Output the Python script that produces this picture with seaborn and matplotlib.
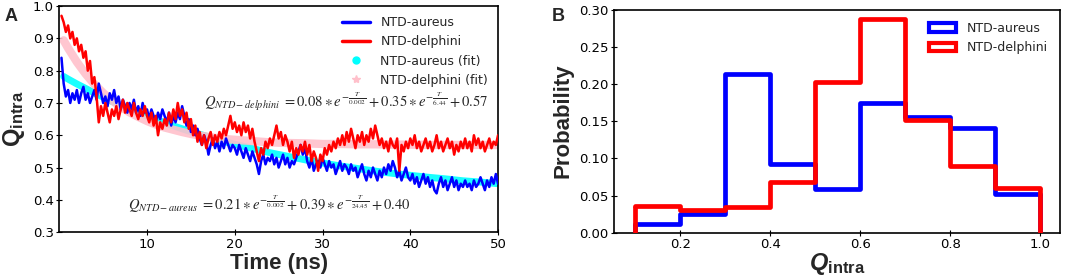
import numpy as np
import pandas as pd
import matplotlib
matplotlib.use('Agg')
import matplotlib.pyplot as plt
import seaborn as sns
from matplotlib.lines import Line2D
from matplotlib.patches import Patch

# ---- Panel A: Q_intra vs time (0.25 ns sampling) ----
time_ns = [0.25 * (k + 1) for k in range(200)]

q_delphini = [
    0.97, 0.95, 0.92, 0.94, 0.90, 0.92, 0.88, 0.90,
    0.86, 0.88, 0.84, 0.86, 0.80, 0.83, 0.76, 0.78,
    0.72, 0.64, 0.69, 0.66, 0.70, 0.67, 0.64, 0.68,
    0.66, 0.69, 0.65, 0.68, 0.71, 0.67, 0.70, 0.68,
    0.66, 0.70, 0.67, 0.65, 0.68, 0.66, 0.69, 0.66,
    0.64, 0.67, 0.63, 0.66, 0.60, 0.64, 0.62, 0.65,
    0.63, 0.67, 0.64, 0.68, 0.65, 0.70, 0.66, 0.68,
    0.64, 0.67, 0.62, 0.65, 0.60, 0.63, 0.58, 0.61,
    0.57, 0.60, 0.56, 0.59, 0.61, 0.57, 0.60, 0.58,
    0.61, 0.59, 0.62, 0.60, 0.63, 0.66, 0.62, 0.64,
    0.61, 0.63, 0.60, 0.64, 0.61, 0.63, 0.59, 0.62,
    0.58, 0.55, 0.52, 0.56, 0.54, 0.58, 0.56, 0.59,
    0.57, 0.60, 0.63, 0.59, 0.61, 0.57, 0.60, 0.58,
    0.55, 0.58, 0.53, 0.56, 0.54, 0.57, 0.55, 0.58,
    0.54, 0.57, 0.52, 0.55, 0.53, 0.49, 0.54, 0.52,
    0.56, 0.54, 0.57, 0.55, 0.58, 0.56, 0.59, 0.57,
    0.60, 0.57, 0.61, 0.58, 0.62, 0.59, 0.56, 0.60,
    0.58, 0.61, 0.57, 0.60, 0.58, 0.62, 0.59, 0.63,
    0.60, 0.57, 0.59, 0.56, 0.58, 0.55, 0.59, 0.57,
    0.56, 0.59, 0.49, 0.57, 0.55, 0.58, 0.56, 0.59,
    0.57, 0.60, 0.56, 0.58, 0.55, 0.57, 0.59, 0.56,
    0.58, 0.55, 0.57, 0.60, 0.56, 0.58, 0.55, 0.57,
    0.59, 0.56, 0.58, 0.54, 0.57, 0.55, 0.58, 0.56,
    0.59, 0.56, 0.58, 0.55, 0.60, 0.57, 0.59, 0.56,
    0.58, 0.55, 0.57, 0.59, 0.56, 0.58, 0.57, 0.60,
]

q_aureus = [
    0.84, 0.76, 0.72, 0.74, 0.70, 0.73, 0.71, 0.74,
    0.70, 0.73, 0.75, 0.71, 0.73, 0.70, 0.72, 0.74,
    0.71, 0.76, 0.73, 0.70, 0.72, 0.69, 0.73, 0.71,
    0.74, 0.70, 0.72, 0.68, 0.71, 0.69, 0.67, 0.70,
    0.68, 0.71, 0.67, 0.69, 0.66, 0.70, 0.67, 0.68,
    0.65, 0.68, 0.66, 0.64, 0.67, 0.65, 0.68, 0.66,
    0.64, 0.67, 0.63, 0.66, 0.64, 0.67, 0.65, 0.69,
    0.66, 0.63, 0.65, 0.61, 0.63, 0.60, 0.62, 0.59,
    0.57, 0.60, 0.58, 0.54, 0.57, 0.59, 0.56, 0.58,
    0.55, 0.58, 0.56, 0.59, 0.57, 0.55, 0.57, 0.56,
    0.54, 0.57, 0.55, 0.53, 0.56, 0.54, 0.52, 0.55,
    0.53, 0.51, 0.48, 0.52, 0.54, 0.51, 0.53, 0.52,
    0.54, 0.51, 0.53, 0.50, 0.52, 0.54, 0.51, 0.53,
    0.50, 0.52, 0.51, 0.53, 0.55, 0.57, 0.54, 0.56,
    0.52, 0.50, 0.53, 0.49, 0.51, 0.52, 0.50, 0.53,
    0.51, 0.49, 0.52, 0.50, 0.51, 0.48, 0.50, 0.52,
    0.49, 0.51, 0.50, 0.48, 0.51, 0.49, 0.50, 0.47,
    0.49, 0.51, 0.48, 0.46, 0.49, 0.47, 0.50, 0.48,
    0.46, 0.49, 0.47, 0.50, 0.48, 0.51, 0.49, 0.52,
    0.50, 0.47, 0.49, 0.46, 0.48, 0.50, 0.47, 0.46,
    0.48, 0.45, 0.47, 0.44, 0.46, 0.48, 0.45, 0.47,
    0.44, 0.46, 0.43, 0.42, 0.45, 0.47, 0.44, 0.46,
    0.43, 0.45, 0.47, 0.44, 0.46, 0.43, 0.45, 0.44,
    0.46, 0.44, 0.45, 0.43, 0.46, 0.44, 0.45, 0.47,
    0.45, 0.43, 0.46, 0.44, 0.47, 0.45, 0.48, 0.45,
]

fit_t = [0.5, 1, 2, 3, 4, 5, 6, 7, 8, 9, 10, 11, 12, 13, 14, 15, 16, 17, 18, 19, 20,
         22, 24, 26, 28, 30, 32, 34, 36, 38, 40, 42, 44, 46, 48, 50]
fit_aureus = [0.782, 0.774, 0.759, 0.745, 0.731, 0.718, 0.705, 0.693, 0.681, 0.670, 0.659,
              0.649, 0.639, 0.629, 0.620, 0.611, 0.603, 0.595, 0.587, 0.579, 0.572,
              0.559, 0.546, 0.535, 0.524, 0.514, 0.505, 0.497, 0.489, 0.482, 0.476,
              0.470, 0.465, 0.459, 0.455, 0.450]
fit_delphini = [0.894, 0.870, 0.827, 0.790, 0.758, 0.731, 0.708, 0.688, 0.671, 0.657, 0.644,
                0.633, 0.624, 0.617, 0.610, 0.604, 0.599, 0.595, 0.591, 0.588, 0.586,
                0.582, 0.578, 0.576, 0.575, 0.573, 0.573, 0.572, 0.572, 0.571, 0.571,
                0.570, 0.570, 0.570, 0.570, 0.570]

# ---- Panel B: Q_intra distributions ----
bin_edges = [0.1, 0.2, 0.3, 0.4, 0.5, 0.6, 0.7, 0.8, 0.9, 1.0]
prob_aureus = [0.012, 0.025, 0.213, 0.093, 0.059, 0.175, 0.155, 0.141, 0.052]
prob_delphini = [0.036, 0.031, 0.035, 0.068, 0.203, 0.288, 0.151, 0.090, 0.060]

df_a = pd.DataFrame({"t": time_ns, "aureus": q_aureus, "delphini": q_delphini})
df_fit = pd.DataFrame({"t": fit_t, "aureus": fit_aureus, "delphini": fit_delphini})
centers = [(bin_edges[i] + bin_edges[i + 1]) / 2 for i in range(len(bin_edges) - 1)]
df_b = pd.DataFrame({"q": centers, "aureus": prob_aureus, "delphini": prob_delphini})

sns.set_style("white")
plt.rcParams['font.family'] = ['DejaVu Sans']
plt.rcParams['mathtext.fontset'] = 'custom'
plt.rcParams['mathtext.rm'] = 'Liberation Sans'
plt.rcParams['mathtext.bf'] = 'Liberation Sans:bold'
plt.rcParams['mathtext.it'] = 'Liberation Sans:italic'
plt.rcParams['mathtext.bfit'] = 'Liberation Sans:bold:italic'

fig = plt.figure(figsize=(10.72, 2.77), dpi=100)
axA = fig.add_axes([0.0553, 0.162, 0.4093, 0.816])
axB = fig.add_axes([0.5728, 0.160, 0.4160, 0.805])

# Panel A
sns.lineplot(data=df_fit, x="t", y="aureus", ax=axA, color="cyan", lw=5, alpha=0.9, zorder=1)
sns.lineplot(data=df_fit, x="t", y="delphini", ax=axA, color="pink", lw=6, alpha=0.9, zorder=1)
sns.lineplot(data=df_a, x="t", y="aureus", ax=axA, color="blue", lw=1.8, zorder=3)
sns.lineplot(data=df_a, x="t", y="delphini", ax=axA, color="red", lw=1.8, zorder=4)
axA.set_xlim(0, 50)
axA.set_ylim(0.3, 1.0)
axA.set_xticks([10, 20, 30, 40, 50])
axA.set_yticks(np.arange(0.3, 1.01, 0.1))
axA.yaxis.set_major_formatter(matplotlib.ticker.FormatStrFormatter('%.1f'))
axA.set_xlabel("Time (ns)", fontsize=16, fontweight='bold', family='Liberation Sans', labelpad=2)
axA.set_ylabel(r"$\mathbf{Q}_{\mathbf{intra}}$", fontsize=17, labelpad=4)

handlesA = [
    Line2D([], [], color="blue", lw=2.5),
    Line2D([], [], color="red", lw=2.5),
    Line2D([], [], color="cyan", marker="o", ls="none", ms=5),
    Line2D([], [], color="pink", marker="*", ls="none", ms=6),
]
axA.legend(handlesA, ["NTD-aureus", "NTD-delphini", "NTD-aureus (fit)", "NTD-delphini (fit)"],
           loc="upper right", frameon=False, fontsize=9, handlelength=2.3, borderaxespad=0.4)

eq_d = (r"$Q_{NTD-delphini}\ = 0.08\ast e^{-\frac{T}{0.002}} + 0.35\ast e^{-\frac{T}{6.44}} + 0.57$")
eq_a = (r"$Q_{NTD-aureus}\ = 0.21\ast e^{-\frac{T}{0.002}} + 0.39\ast e^{-\frac{T}{24.45}} + 0.40$")
axA.text(16.5, 0.703, eq_d, fontsize=10.5, math_fontfamily='stix', ha='left', va='center', zorder=5)
axA.text(7.8, 0.385, eq_a, fontsize=10.5, math_fontfamily='stix', ha='left', va='center', zorder=5)

# Panel B
sns.histplot(data=df_b, x="q", weights="aureus", bins=bin_edges, element="step", fill=False,
             color="blue", lw=3.4, ax=axB, zorder=2)
sns.histplot(data=df_b, x="q", weights="delphini", bins=bin_edges, element="step", fill=False,
             color="red", lw=3.4, ax=axB, zorder=3)
# close the outer edges down to zero like a step histogram
axB.vlines([bin_edges[0], bin_edges[-1]], 0, [prob_aureus[0], prob_aureus[-1]], color="blue", lw=3.4, zorder=2)
axB.vlines([bin_edges[0], bin_edges[-1]], 0, [prob_delphini[0], prob_delphini[-1]], color="red", lw=3.4, zorder=3)
axB.set_xlim(0.053, 1.044)
axB.set_ylim(0, 0.30)
axB.set_xticks([0.2, 0.4, 0.6, 0.8, 1.0])
axB.set_yticks(np.arange(0, 0.301, 0.05))
axB.yaxis.set_major_formatter(matplotlib.ticker.FormatStrFormatter('%.2f'))
axB.set_xlabel(r"$\mathbfit{Q}_{\mathbf{intra}}$", fontsize=17, labelpad=0)
axB.set_ylabel("Probability", fontsize=16, fontweight='bold', family='Liberation Sans', labelpad=4)
handlesB = [Patch(facecolor="white", edgecolor="blue", lw=3), Patch(facecolor="white", edgecolor="red", lw=3)]
axB.legend(handlesB, ["NTD-aureus", "NTD-delphini"], loc="upper right", frameon=False,
           fontsize=9, handlelength=2.2, handleheight=0.7, borderaxespad=0.6)

for ax in (axA, axB):
    for s in ax.spines.values():
        s.set_color("black")
        s.set_linewidth(1.2)
    ax.tick_params(direction="inout", length=4, width=0.8, labelsize=9.5, colors="black", pad=2,
                   bottom=True, left=True)

fig.text(0.004, 0.925, "A", fontsize=13, fontweight="bold", family="Liberation Sans")
fig.text(0.515, 0.925, "B", fontsize=13, fontweight="bold", family="Liberation Sans")

fig.savefig("out.png", dpi=100)
plt.close(fig)
